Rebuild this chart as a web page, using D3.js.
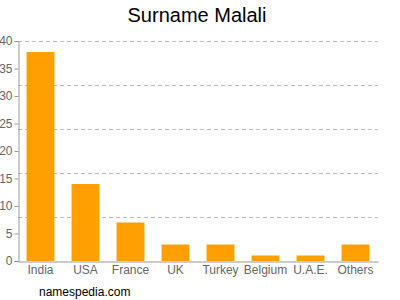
<!DOCTYPE html>
<html>
<head>
<meta charset="utf-8">
<script src="https://cdn.jsdelivr.net/npm/d3@7"></script>
<style>
  body { margin: 0; background: #fff; }
  svg { font-family: "Liberation Sans", Arial, sans-serif; }
</style>
</head>
<body>
<svg id="chart" width="400" height="300"></svg>
<script>
var countries = ["India", "USA", "France", "UK", "Turkey", "Belgium", "U.A.E.", "Others"]
var counts = [38, 14, 7, 3, 3, 1, 1, 3]
var yTicks = [0, 5, 10, 15, 20, 25, 30, 35, 40]
var gridValues = [8, 16, 24, 32, 40]

var svg = d3.select("#chart")
var plotLeft = 18, plotRight = 378, plotTop = 41, plotBottom = 261

var x = d3.scaleBand()
    .domain(countries)
    .range([plotLeft, plotRight])
    .paddingInner(0.38)
    .paddingOuter(0.19)

var y = d3.scaleLinear()
    .domain([0, 40])
    .range([plotBottom, plotTop])

// dashed grid
svg.append("g")
    .selectAll("line")
    .data(gridValues)
    .enter()
    .append("line")
    .attr("x1", plotLeft)
    .attr("x2", plotRight)
    .attr("y1", function (d) { return Math.round(y(d)) + 0.5 })
    .attr("y2", function (d) { return Math.round(y(d)) + 0.5 })
    .style("stroke", "#bbb")
    .style("stroke-dasharray", "4,3")

svg.append("g")
    .selectAll("rect")
    .data(counts)
    .enter()
    .append("rect")
    .attr("x", function (d, i) { return x(countries[i]) })
    .attr("width", x.bandwidth())
    .attr("y", function (d) { return y(d) })
    .attr("height", function (d) { return y(0) - y(d) })
    .style("fill", "#ffa000")

var yAxis = svg.append("g")
    .attr("transform", "translate(" + (plotLeft + 0.5) + ",0)")
    .call(d3.axisLeft(y).tickValues(yTicks).tickSize(4).tickPadding(2))
yAxis.select(".domain").style("stroke", "#999")
yAxis.selectAll(".tick line").style("stroke", "#999")
yAxis.selectAll("text").style("fill", "#666").style("font-size", "12px")

var xAxis = svg.append("g")
    .attr("transform", "translate(0," + (plotBottom + 0.5) + ")")
    .call(d3.axisBottom(x).tickSize(0).tickPadding(4))
xAxis.select(".domain").style("stroke", "#999")
xAxis.selectAll("text").style("fill", "#666").style("font-size", "12px")

svg.append("text")
    .attr("x", 197)
    .attr("y", 22)
    .attr("text-anchor", "middle")
    .style("font-size", "20px")
    .style("fill", "#000")
    .text("Surname Malali")

svg.append("text")
    .attr("x", 39)
    .attr("y", 296)
    .style("font-size", "12px")
    .style("fill", "#000")
    .text("namespedia.com")
</script>
</body>
</html>
